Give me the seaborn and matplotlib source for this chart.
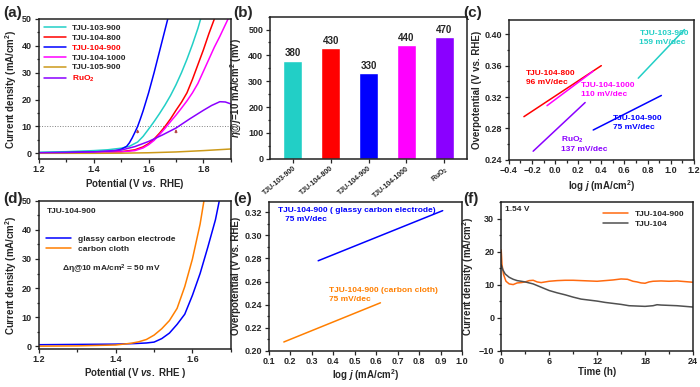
import numpy as np
import pandas as pd
import matplotlib
matplotlib.use("Agg")
import matplotlib.pyplot as plt
from matplotlib.ticker import MultipleLocator
import seaborn as sns

# ---------------- data ----------------
# (a) LSV curves, potential (V) / current density (mA/cm2)
v_103_900 = [1.20, 1.30, 1.40, 1.45, 1.50, 1.53, 1.56, 1.58, 1.60, 1.62, 1.64, 1.66, 1.68, 1.70, 1.72, 1.74, 1.76, 1.78, 1.79]
j_103_900 = [0.4, 0.6, 1.0, 1.3, 1.9, 2.6, 4.2, 6.3, 9.0, 11.8, 14.8, 18.0, 21.5, 25.5, 30.0, 35.0, 40.5, 46.5, 50.0]
v_104_800 = [1.20, 1.30, 1.40, 1.50, 1.55, 1.58, 1.60, 1.62, 1.64, 1.66, 1.68, 1.70, 1.72, 1.74, 1.76, 1.78, 1.80, 1.82, 1.84]
j_104_800 = [0.1, 0.2, 0.3, 0.6, 1.3, 2.4, 3.6, 5.3, 7.5, 10.0, 12.8, 16.0, 19.0, 22.5, 27.5, 33.0, 38.5, 44.5, 50.0]
v_104_900 = [1.20, 1.30, 1.40, 1.45, 1.48, 1.50, 1.52, 1.53, 1.54, 1.55, 1.56, 1.57, 1.58, 1.60, 1.62, 1.64, 1.66, 1.67]
j_104_900 = [0.2, 0.3, 0.5, 0.7, 1.0, 1.5, 2.6, 3.9, 5.7, 7.8, 10.0, 12.8, 15.8, 22.5, 30.0, 38.0, 46.0, 50.0]
v_104_1000 = [1.20, 1.30, 1.40, 1.50, 1.55, 1.58, 1.60, 1.62, 1.64, 1.66, 1.68, 1.70, 1.72, 1.74, 1.76, 1.78, 1.80, 1.82, 1.84, 1.86, 1.89]
j_104_1000 = [0.1, 0.15, 0.25, 0.5, 1.0, 2.0, 3.2, 4.8, 7.0, 9.3, 11.8, 14.2, 16.8, 19.5, 22.5, 26.0, 30.5, 35.0, 39.5, 43.5, 50.0]
v_105_900 = [1.20, 1.40, 1.50, 1.60, 1.70, 1.80, 1.90]
j_105_900 = [0.0, 0.0, 0.05, 0.2, 0.5, 1.0, 1.6]
v_ruo2 = [1.20, 1.30, 1.40, 1.50, 1.55, 1.60, 1.65, 1.70, 1.75, 1.80, 1.83, 1.86, 1.88, 1.90]
j_ruo2 = [0.2, 0.3, 0.5, 1.2, 2.5, 4.4, 6.8, 9.4, 12.8, 16.0, 17.8, 19.2, 19.1, 18.4]

samples = ["TJU-103-900", "TJU-104-800", "TJU-104-900", "TJU-104-1000", "TJU-105-900", "RuO$_2$"]
colors = {"TJU-103-900": "#22CFC6", "TJU-104-800": "#FF0000", "TJU-104-900": "#0000FF",
          "TJU-104-1000": "#FF00FF", "TJU-105-900": "#CC9A1A", "RuO$_2$": "#8A00FF"}

# (b) overpotential at 10 mA/cm2
bar_names = ["TJU-103-900", "TJU-104-800", "TJU-104-900", "TJU-104-1000", "RuO$_2$"]
eta = [380, 430, 330, 440, 470]

# (c) Tafel fits: (log j start, end), (eta start, end)
tafel_x = {"TJU-103-900": [0.72, 1.12], "TJU-104-800": [-0.27, 0.40], "TJU-104-900": [0.33, 0.92],
           "TJU-104-1000": [-0.07, 0.33], "RuO$_2$": [-0.19, 0.26]}
tafel_y = {"TJU-103-900": [0.344, 0.406], "TJU-104-800": [0.295, 0.360], "TJU-104-900": [0.278, 0.322],
           "TJU-104-1000": [0.309, 0.353], "RuO$_2$": [0.251, 0.313]}

# (d) substrate comparison
v_gce = [1.20, 1.30, 1.40, 1.45, 1.48, 1.50, 1.52, 1.54, 1.55, 1.56, 1.58, 1.60, 1.62, 1.64, 1.66, 1.67]
j_gce = [0.5, 0.6, 0.7, 0.9, 1.1, 1.4, 2.6, 4.5, 6.0, 7.5, 11.0, 17.5, 25.0, 34.0, 43.5, 50.0]
v_cc = [1.20, 1.30, 1.40, 1.42, 1.44, 1.46, 1.48, 1.50, 1.52, 1.54, 1.56, 1.58, 1.60, 1.62, 1.63]
j_cc = [0.0, 0.1, 0.4, 0.7, 1.0, 1.5, 2.3, 3.8, 6.0, 8.8, 13.0, 20.5, 30.0, 42.0, 50.0]

# (e) Tafel on substrates
tafel2_x = {"gce": [0.33, 0.91], "cc": [0.17, 0.62]}
tafel2_y = {"gce": [0.278, 0.3215], "cc": [0.2075, 0.2415]}

# (f) chronoamperometry at 1.54 V
t_900 = [0, 0.1, 0.3, 0.6, 1.0, 1.5, 2.0, 2.5, 3.0, 3.5, 4.0, 4.5, 5.0, 6.0, 7.0, 8.0, 9.0, 10, 11, 12,
         13, 14, 15, 15.8, 16.5, 17, 17.5, 18, 18.5, 19, 20, 21, 22, 23, 24]
i_900 = [20.5, 16, 13, 11, 10.2, 10.0, 10.5, 10.6, 10.8, 11.2, 11.3, 10.8, 10.6, 11.0, 11.2, 11.3, 11.3, 11.2, 11.1, 11.0,
         11.2, 11.4, 11.7, 11.6, 11.0, 10.8, 10.5, 10.4, 10.8, 11.0, 11.1, 11.0, 11.1, 10.9, 10.7]
t_104 = [0, 0.2, 0.5, 1, 1.5, 2, 3, 4, 5, 6, 7, 8, 9, 10, 11, 12, 13, 14, 15, 16, 17, 18, 19, 19.5, 20, 21, 22, 23, 24]
i_104 = [16, 14.5, 13.2, 12.2, 11.6, 11.2, 10.8, 10.2, 9.2, 8.2, 7.5, 6.9, 6.2, 5.6, 5.3, 5.0, 4.6, 4.3, 4.0, 3.6,
         3.5, 3.4, 3.6, 3.9, 3.8, 3.7, 3.6, 3.4, 3.2]

# ---------------- style ----------------
sns.set_theme(style="ticks")
plt.rcParams["font.family"] = ["Liberation Sans", "DejaVu Sans"]
plt.rcParams["font.weight"] = "bold"
plt.rcParams["axes.labelweight"] = "bold"
plt.rcParams["mathtext.fontset"] = "custom"
plt.rcParams["mathtext.rm"] = "Liberation Sans:bold"
plt.rcParams["mathtext.it"] = "Liberation Sans:italic:bold"
plt.rcParams["mathtext.bf"] = "Liberation Sans:bold"
plt.rcParams["axes.linewidth"] = 1.1
plt.rcParams["axes.edgecolor"] = "#222222"
plt.rcParams["xtick.labelsize"] = 6.5
plt.rcParams["ytick.labelsize"] = 6.5
plt.rcParams["xtick.major.size"] = 3
plt.rcParams["ytick.major.size"] = 3
plt.rcParams["xtick.minor.size"] = 1.8
plt.rcParams["ytick.minor.size"] = 1.8
plt.rcParams["xtick.major.pad"] = 1.5
plt.rcParams["ytick.major.pad"] = 2
plt.rcParams["axes.labelsize"] = 7
plt.rcParams["axes.labelpad"] = 2

fig = plt.figure(figsize=(7, 3.87), dpi=100)
ax_a = fig.add_axes([0.0557, 0.590, 0.274, 0.361])
ax_b = fig.add_axes([0.386, 0.590, 0.281, 0.367])
ax_c = fig.add_axes([0.727, 0.587, 0.264, 0.361])
ax_d = fig.add_axes([0.0557, 0.098, 0.274, 0.383])
ax_e = fig.add_axes([0.384, 0.094, 0.276, 0.384])
ax_f = fig.add_axes([0.716, 0.094, 0.274, 0.384])

# ---------------- (a) ----------------
lsv = pd.concat([
    pd.DataFrame({"V": v_103_900, "j": j_103_900, "s": "TJU-103-900"}),
    pd.DataFrame({"V": v_104_800, "j": j_104_800, "s": "TJU-104-800"}),
    pd.DataFrame({"V": v_104_900, "j": j_104_900, "s": "TJU-104-900"}),
    pd.DataFrame({"V": v_104_1000, "j": j_104_1000, "s": "TJU-104-1000"}),
    pd.DataFrame({"V": v_105_900, "j": j_105_900, "s": "TJU-105-900"}),
    pd.DataFrame({"V": v_ruo2, "j": j_ruo2, "s": "RuO$_2$"}),
])
sns.lineplot(data=lsv, x="V", y="j", hue="s", hue_order=samples, palette=colors,
             lw=1.1, sort=False, ax=ax_a)
ax_a.axhline(10, color="gray", ls=":", lw=0.7, zorder=0)
for e in [eta[2], eta[4]]:
    xv = 1.23 + e / 1000
    ax_a.annotate("", xy=(xv, 10), xytext=(xv, 6.5),
                  arrowprops=dict(arrowstyle="-|>", color="#B0413E", lw=0.6, mutation_scale=4))
ax_a.set_xlim(1.2, 1.9)
ax_a.set_ylim(-2, 50)
ax_a.xaxis.set_major_locator(MultipleLocator(0.2))
ax_a.xaxis.set_minor_locator(MultipleLocator(0.1))
ax_a.yaxis.set_major_locator(MultipleLocator(10))
ax_a.yaxis.set_minor_locator(MultipleLocator(5))
ax_a.set_xlabel("Potential (V $vs.$ RHE)")
ax_a.set_ylabel("Current density (mA/cm$^2$)")
leg = ax_a.legend(loc="upper left", frameon=False, fontsize=6, handlelength=2.6,
                  labelspacing=0.25, borderaxespad=0.2, title=None)
for txt in leg.get_texts():
    if txt.get_text() in ("TJU-104-900", "RuO$_2$"):
        txt.set_color("red")

# ---------------- (b) ----------------
bar_df = pd.DataFrame({"name": bar_names, "eta": eta})
sns.barplot(data=bar_df, x="name", y="eta", hue="name", palette=colors, width=0.5,
            saturation=1, legend=False, ax=ax_b)
for i, v in enumerate(eta):
    ax_b.text(i, v + 8, str(v), ha="center", va="bottom", fontsize=7, fontweight="bold")
ax_b.set_ylim(0, 550)
ax_b.set_xlim(-0.6, 4.6)
ax_b.yaxis.set_major_locator(MultipleLocator(100))
ax_b.yaxis.set_minor_locator(MultipleLocator(50))
ax_b.set_xlabel("")
ax_b.set_ylabel(r"$\eta$@$j$=10 mA/cm$^2$ (mV)", labelpad=3)
plt.setp(ax_b.get_xticklabels(), rotation=40, ha="right", rotation_mode="anchor", fontsize=5)

# ---------------- (c) ----------------
for s in tafel_x:
    sns.lineplot(x=tafel_x[s], y=tafel_y[s], color=colors[s], lw=1.1, ax=ax_c)
ax_c.text(0.73, 0.405, "TJU-103-900\n159 mV/dec", color=colors["TJU-103-900"], fontsize=6, va="top", linespacing=1.4)
ax_c.text(-0.25, 0.354, "TJU-104-800\n96 mV/dec", color="red", fontsize=6, va="top", linespacing=1.4)
ax_c.text(0.22, 0.339, "TJU-104-1000\n110 mV/dec", color="#FF00FF", fontsize=6, va="top", linespacing=1.4)
ax_c.text(0.05, 0.272, "RuO$_2$\n137 mV/dec", color="#8A00FF", fontsize=6, va="top", linespacing=1.3)
ax_c.text(0.50, 0.297, "TJU-104-900\n75 mV/dec", color="#0000FF", fontsize=6, va="top", linespacing=1.4)
ax_c.set_xlim(-0.4, 1.2)
ax_c.set_ylim(0.24, 0.418)
ax_c.xaxis.set_major_locator(MultipleLocator(0.2))
ax_c.xaxis.set_minor_locator(MultipleLocator(0.1))
ax_c.yaxis.set_major_locator(MultipleLocator(0.04))
ax_c.yaxis.set_minor_locator(MultipleLocator(0.02))
ax_c.set_xlabel("log $j$ (mA/cm$^2$)")
ax_c.set_ylabel("Overpotential (V vs. RHE)")

# ---------------- (d) ----------------
sns.lineplot(x=v_gce, y=j_gce, color="#0000FF", lw=1.1, label="glassy carbon electrode", ax=ax_d)
sns.lineplot(x=v_cc, y=j_cc, color="#FF7F00", lw=1.1, label="carbon cloth", ax=ax_d)
ax_d.set_xlim(1.2, 1.7)
ax_d.set_ylim(-1, 50)
ax_d.xaxis.set_major_locator(MultipleLocator(0.2))
ax_d.xaxis.set_minor_locator(MultipleLocator(0.1))
ax_d.yaxis.set_major_locator(MultipleLocator(10))
ax_d.yaxis.set_minor_locator(MultipleLocator(5))
ax_d.set_xlabel("Potential (V $vs.$ RHE )")
ax_d.set_ylabel("Current density (mA/cm$^2$)")
ax_d.legend(loc="upper left", bbox_to_anchor=(0.0, 0.82), frameon=False, fontsize=6,
            handlelength=3, labelspacing=0.3)
ax_d.text(0.04, 0.95, "TJU-104-900", transform=ax_d.transAxes, fontsize=6, va="top")
ax_d.text(0.12, 0.54, "Δη@10 mA/cm$^2$ = 50 mV", transform=ax_d.transAxes, fontsize=6, va="center")

# ---------------- (e) ----------------
sns.lineplot(x=tafel2_x["gce"], y=tafel2_y["gce"], color="#0000FF", lw=1.1, ax=ax_e)
sns.lineplot(x=tafel2_x["cc"], y=tafel2_y["cc"], color="#FF7F00", lw=1.1, ax=ax_e)
ax_e.text(0.145, 0.3245, "TJU-104-900 ( glassy carbon electrode)\n   75 mV/dec", color="#0000FF",
          fontsize=6, va="top", linespacing=1.4)
ax_e.text(0.38, 0.2555, "TJU-104-900 (carbon cloth)\n75 mV/dec", color="#FF7F00",
          fontsize=6, va="top", linespacing=1.4)
ax_e.set_xlim(0.1, 1.0)
ax_e.set_ylim(0.20, 0.329)
ax_e.xaxis.set_major_locator(MultipleLocator(0.1))
ax_e.yaxis.set_major_locator(MultipleLocator(0.02))
ax_e.yaxis.set_minor_locator(MultipleLocator(0.01))
ax_e.set_xlabel("log $j$ (mA/cm$^2$)", labelpad=1)
ax_e.set_ylabel("Overpotential (V vs. RHE)")

# ---------------- (f) ----------------
sns.lineplot(x=t_900, y=i_900, color="#FF6A10", lw=1.1, label="TJU-104-900", ax=ax_f)
sns.lineplot(x=t_104, y=i_104, color="#505050", lw=1.1, label="TJU-104", ax=ax_f)
ax_f.set_xlim(0, 24)
ax_f.set_ylim(-10, 35)
ax_f.xaxis.set_major_locator(MultipleLocator(6))
ax_f.xaxis.set_minor_locator(MultipleLocator(3))
ax_f.yaxis.set_major_locator(MultipleLocator(10))
ax_f.yaxis.set_minor_locator(MultipleLocator(5))
ax_f.set_xlabel("Time (h)", labelpad=1)
ax_f.set_ylabel("Current density (mA/cm$^2$)")
ax_f.legend(loc="upper right", frameon=False, fontsize=6, handlelength=3, labelspacing=0.2,
            borderaxespad=0.6)
ax_f.text(0.02, 0.97, "1.54 V", transform=ax_f.transAxes, fontsize=6, va="top")

ax_d.xaxis.labelpad = 1
for ax in [ax_a, ax_b, ax_c, ax_d, ax_e, ax_f]:
    ax.tick_params(which="both", direction="out", width=0.9)

# panel letters
for lab, x, y in [("(a)", 0.004, 0.985), ("(b)", 0.333, 0.985), ("(c)", 0.662, 0.985),
                  ("(d)", 0.004, 0.505), ("(e)", 0.333, 0.505), ("(f)", 0.662, 0.505)]:
    fig.text(x, y, lab, fontsize=11, fontweight="bold", va="top")

fig.savefig("out.png", dpi=100)
